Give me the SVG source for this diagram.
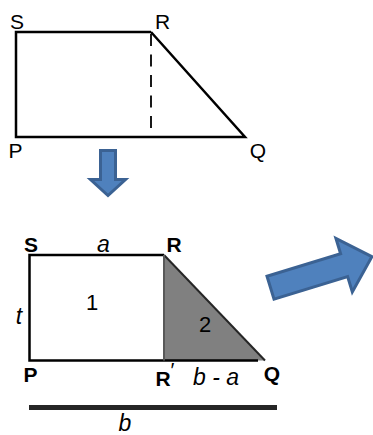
<svg xmlns="http://www.w3.org/2000/svg" width="373" height="435" viewBox="0 0 373 435">
<style>
.lbl{font-family:"Liberation Sans",Arial,sans-serif;font-size:21px;fill:#000;text-anchor:middle}
.b{font-weight:bold}
.i{font-style:italic;font-size:23px}
.n{font-size:22px}
.edge{stroke:#000;stroke-width:2.5;fill:none}
.arrow{fill:#4f81bd;stroke:#3b6293;stroke-width:3;stroke-linejoin:miter}
</style>
<rect width="373" height="435" fill="#fff"/>
<g id="top-figure">
  <path class="edge" d="M151,32 H16 V137 H245 L151,32"/>
  <line x1="151" y1="34" x2="151" y2="136" stroke="#000" stroke-width="1.8" stroke-dasharray="12,8.5"/>
  <text class="lbl" x="17" y="28.5">S</text>
  <text class="lbl" x="162.5" y="28.5">R</text>
  <text class="lbl" x="15.5" y="158">P</text>
  <text class="lbl" x="258" y="158">Q</text>
</g>
<g id="down-arrow">
  <path class="arrow" d="M100.5,150.5 H115.5 V179.5 H125.5 L108,195.5 L90.5,179.5 H100.5 Z"/>
</g>
<g id="bottom-figure">
  <path d="M164,255 L265,360.5 H164 Z" fill="#808080" stroke="none"/>
  <path class="edge" d="M164,255 H29.5 V360.5 H258"/>
  <line x1="164" y1="255" x2="265" y2="360.5" stroke="#262626" stroke-width="2"/>
  <line x1="164" y1="255" x2="164" y2="360.5" stroke="#595959" stroke-width="2"/>
  <text class="lbl b" x="31" y="252">S</text>
  <text class="lbl i" x="103.5" y="252">a</text>
  <text class="lbl b" x="174" y="252">R</text>
  <text class="lbl i" x="19" y="323.5">t</text>
  <text class="lbl n" x="92" y="310">1</text>
  <text class="lbl n" x="205" y="332">2</text>
  <text class="lbl b" x="30.5" y="382">P</text>
  <text class="lbl b" x="165" y="385.5">R<tspan font-weight="normal" dy="-9">′</tspan></text>
  <text class="lbl i" x="216" y="385">b - a</text>
  <text class="lbl b" x="272" y="380.5">Q</text>
  <line x1="29" y1="407.5" x2="277" y2="407.5" stroke="#262626" stroke-width="5"/>
  <text class="lbl i" x="125" y="431">b</text>
</g>
<g id="right-arrow">
  <path class="arrow" transform="translate(270.5,287.7) rotate(-17)" d="M0,-12 H77 V-28 L106,0 L77,28 V12 H0 Z"/>
</g>
</svg>
